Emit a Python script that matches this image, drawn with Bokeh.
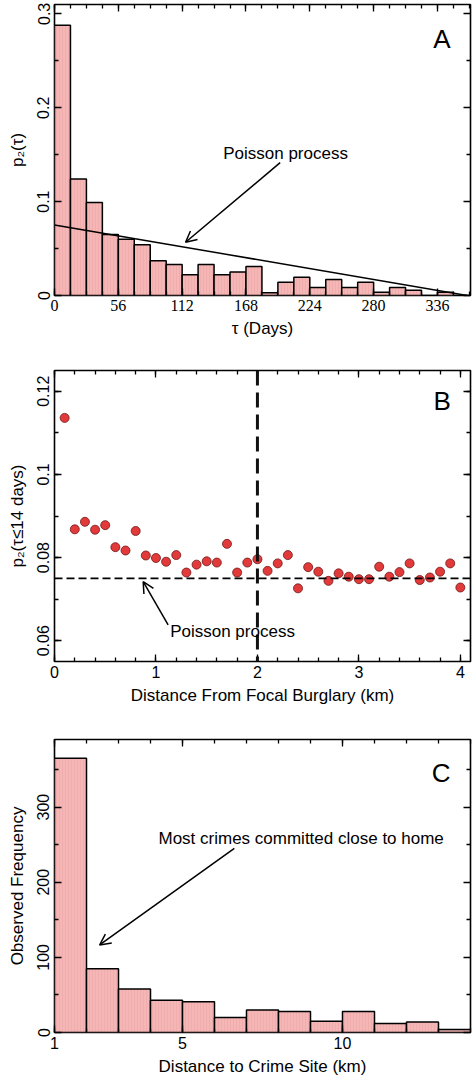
import numpy as np
from bokeh.plotting import figure
from bokeh.layouts import column
from bokeh.models import (LinearAxis, FixedTicker, Range1d, Label, Arrow,
                          OpenHead, Span, CustomLabelingPolicy)
from bokeh.embed import file_html
from bokeh.resources import INLINE

# ---------------- data ----------------
# Panel A: histogram of p2(tau), 14-day bins
tau_left = [0, 14, 28, 42, 56, 70, 84, 98, 112, 126, 140, 154, 168, 182,
            196, 210, 224, 238, 252, 266, 280, 294, 308, 322, 336, 350]
tau_right = [14, 28, 42, 56, 70, 84, 98, 112, 126, 140, 154, 168, 182, 196,
             210, 224, 238, 252, 266, 280, 294, 308, 322, 336, 350, 364]
p2_tau = [0.288, 0.124, 0.099, 0.065, 0.060, 0.054, 0.037, 0.033, 0.022,
          0.033, 0.022, 0.025, 0.031, 0.003, 0.014, 0.0195, 0.0085, 0.017,
          0.0085, 0.014, 0.0035, 0.0085, 0.0056, 0.0, 0.0035, 0.0]
poisson_a_x = [0, 362]
poisson_a_y = [0.0752, 0.0]
tau_ticks = [0, 56, 112, 168, 224, 280, 336]
tau_minor = [0, 14, 28, 42, 56, 70, 84, 98, 112, 126, 140, 154, 168, 182,
             196, 210, 224, 238, 252, 266, 280, 294, 308, 322, 336, 350, 364]
pa_ticks = [0, 0.1, 0.2, 0.3]
pa_minor = [0.05, 0.15, 0.25]

# Panel B: p2(tau<=14 days) vs distance
dist_km = [0.1, 0.2, 0.3, 0.4, 0.5, 0.6, 0.7, 0.8, 0.9, 1.0,
           1.1, 1.2, 1.3, 1.4, 1.5, 1.6, 1.7, 1.8, 1.9, 2.0,
           2.1, 2.2, 2.3, 2.4, 2.5, 2.6, 2.7, 2.8, 2.9, 3.0,
           3.1, 3.2, 3.3, 3.4, 3.5, 3.6, 3.7, 3.8, 3.9, 4.0]
p2_14 = [0.1136, 0.0868, 0.0886, 0.0867, 0.0878, 0.0825, 0.0817, 0.0864, 0.0805, 0.0799,
         0.0790, 0.0806, 0.0764, 0.0783, 0.0791, 0.0788, 0.0833, 0.0764, 0.0788, 0.0796,
         0.0768, 0.0786, 0.0806, 0.0726, 0.0777, 0.0766, 0.0744, 0.0762, 0.0754, 0.0748,
         0.0748, 0.0778, 0.0754, 0.0765, 0.0786, 0.0746, 0.0752, 0.0766, 0.0786, 0.0728]
poisson_b = 0.075
cutoff_km = 2.0
dist_ticks = [0, 1, 2, 3, 4]
dist_minor = [0, 0.2, 0.4, 0.6, 0.8, 1.0, 1.2, 1.4, 1.6, 1.8, 2.0, 2.2, 2.4,
              2.6, 2.8, 3.0, 3.2, 3.4, 3.6, 3.8, 4.0]
p2_ticks = [0.06, 0.08, 0.1, 0.12]
p2_minor = [0.06, 0.07, 0.08, 0.09, 0.1, 0.11, 0.12]

# Panel C: distance to crime site histogram
site_left = [1, 2, 3, 4, 5, 6, 7, 8, 9, 10, 11, 12, 13]
site_right = [2, 3, 4, 5, 6, 7, 8, 9, 10, 11, 12, 13, 14]
site_freq = [365, 85, 58, 43, 41, 20, 30, 28, 15, 28, 12, 14, 4]
site_ticks = [1, 5, 10]
site_minor = [1, 2, 3, 4, 5, 6, 7, 8, 9, 10, 11, 12, 13, 14]
freq_ticks = [0, 100, 200, 300]
freq_minor = [50, 150, 250, 350]

# ---------------- style ----------------
SANS = "Liberation Sans"
SERIF = "Liberation Serif"
BAR_FILL = "#f5b6b6"
FW = 416


def style_axis(ax, ticker, minor, labels=True, font=SANS, vertical=False):
    ax.ticker = FixedTicker(ticks=ticker, minor_ticks=minor)
    ax.major_tick_in = 7
    ax.major_tick_out = 0
    ax.minor_tick_in = 4
    ax.minor_tick_out = 0
    ax.major_tick_line_width = 1.3
    ax.minor_tick_line_width = 1.3
    ax.axis_line_color = None
    ax.major_label_text_font = font
    ax.major_label_text_font_size = "16px"
    ax.major_label_text_color = "black"
    ax.axis_label_text_font = SANS
    ax.axis_label_text_font_size = "17px"
    ax.axis_label_text_font_style = "normal"
    ax.axis_label_text_color = "black"
    if vertical:
        ax.major_label_orientation = "vertical"
        ax.major_label_standoff = 5
        ax.axis_label_standoff = 8
    else:
        ax.major_label_standoff = 4
        ax.axis_label_standoff = 5
    if not labels:
        ax.major_label_text_font_size = "1px"
        ax.major_label_standoff = 0
        ax.axis_label_standoff = 0
        ax.axis_label = None
        ax.major_label_policy = CustomLabelingPolicy(code="return []")


def make_fig(xr, yr, top, bottom, fh):
    p = figure(frame_width=FW, frame_height=fh, x_range=Range1d(*xr),
               y_range=Range1d(*yr), output_backend="svg",
               toolbar_location=None, min_border_left=54,
               min_border_right=5, min_border_top=top,
               min_border_bottom=bottom)
    p.xgrid.visible = False
    p.ygrid.visible = False
    p.outline_line_color = "black"
    p.outline_line_width = 1.6
    p.background_fill_color = "white"
    p.border_fill_color = "white"
    return p


def add_mirror(p, xt, xm, yt, ym):
    top = LinearAxis()
    style_axis(top, xt, xm, labels=False)
    right = LinearAxis()
    style_axis(right, yt, ym, labels=False)
    p.add_layout(top, "above")
    p.add_layout(right, "right")


def letter(p, x, y, t):
    p.add_layout(Label(x=x, y=y, text=t, text_font=SANS, text_font_size="26px",
                       text_align="center", text_baseline="middle",
                       text_color="black"))


def note(p, x, y, t):
    p.add_layout(Label(x=x, y=y, text=t, text_font=SANS, text_font_size="17px",
                       text_align="left", text_baseline="middle",
                       text_color="black"))


def arrow(p, x0, y0, x1, y1):
    p.add_layout(Arrow(end=OpenHead(size=11, line_width=1.5, line_color="black"),
                       x_start=x0, y_start=y0, x_end=x1, y_end=y1,
                       line_width=1.5, line_color="black"))


# ---------------- panel A ----------------
pa = make_fig((0, 365), (0, 0.31), 3, 47, 291)
pa.quad(left=tau_left, right=tau_right, bottom=0, top=p2_tau,
        fill_color=BAR_FILL, line_color="black", line_width=1.5,
        hatch_pattern="vertical_line", hatch_color="#e99d9d",
        hatch_scale=3, hatch_weight=0.6, hatch_alpha=0.6)
pa.line(poisson_a_x, poisson_a_y, line_color="black", line_width=1.5)
style_axis(pa.xaxis[0], tau_ticks, tau_minor, font=SERIF)
pa.xaxis[0].axis_label = "\u03c4 (Days)"
style_axis(pa.yaxis[0], pa_ticks, pa_minor, vertical=True)
pa.yaxis[0].axis_label = "p\u2082(\u03c4)"
add_mirror(pa, tau_ticks, tau_minor, pa_ticks, pa_minor)
letter(pa, 340, 0.273, "A")
note(pa, 148, 0.151, "Poisson process")
arrow(pa, 198, 0.1415, 115, 0.0567)

# ---------------- panel B ----------------
pb = make_fig((0, 4.1), (0.055, 0.125), 28, 47, 291)
pb.add_layout(Span(location=poisson_b, dimension="width", line_color="black",
                   line_width=1.6, line_dash="8 4"))
pb.add_layout(Span(location=cutoff_km, dimension="height", line_color="#111111",
                   line_width=3, line_dash="15 7"))
pb.scatter(dist_km, p2_14, size=9, fill_color="#e23a3a", line_color="#701515",
           line_width=0.8)
style_axis(pb.xaxis[0], dist_ticks, dist_minor)
pb.xaxis[0].axis_label = "Distance From Focal Burglary (km)"
style_axis(pb.yaxis[0], p2_ticks, p2_minor, vertical=True)
pb.yaxis[0].axis_label = "p\u2082(\u03c4\u226414 days)"
add_mirror(pb, dist_ticks, dist_minor, p2_ticks, p2_minor)
letter(pb, 3.82, 0.1176, "B")
note(pb, 1.14, 0.0622, "Poisson process")
arrow(pb, 1.12, 0.0638, 0.874, 0.0742)

# ---------------- panel C ----------------
pc = make_fig((1, 14), (0, 390), 31, 47, 293)
pc.quad(left=site_left, right=site_right, bottom=0, top=site_freq,
        fill_color=BAR_FILL, line_color="black", line_width=1.5,
        hatch_pattern="vertical_line", hatch_color="#e99d9d",
        hatch_scale=3, hatch_weight=0.6, hatch_alpha=0.6)
style_axis(pc.xaxis[0], site_ticks, site_minor)
pc.xaxis[0].axis_label = "Distance to Crime Site (km)"
style_axis(pc.yaxis[0], freq_ticks, freq_minor, vertical=True)
pc.yaxis[0].axis_label = "Observed Frequency"
add_mirror(pc, site_ticks, site_minor, freq_ticks, freq_minor)
letter(pc, 13.08, 345, "C")
note(pc, 4.25, 258.7, "Most crimes committed close to home")
arrow(pc, 6.62, 245, 2.41, 116.5)

layout = column(pa, pb, pc, spacing=0)
open("out.html", "w").write(file_html(layout, INLINE))
